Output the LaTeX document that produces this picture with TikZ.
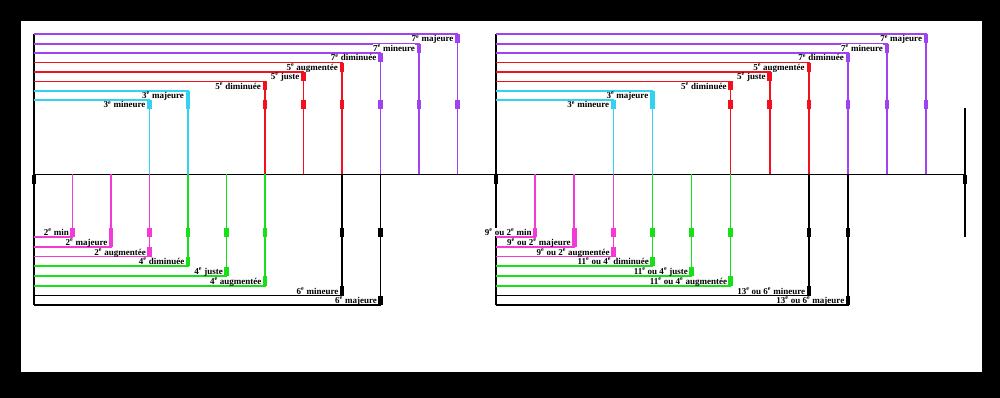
\documentclass[tikz,border=0pt]{standalone}
\usepackage{fontspec}
\setmainfont{Liberation Serif}
\usepackage{tikz}
\usetikzlibrary{positioning,calc}

\definecolor{tierce}{HTML}{33D2F2}
\definecolor{quinte}{HTML}{F2101E}
\definecolor{septieme}{HTML}{A042F0}
\definecolor{seconde}{HTML}{F23BD6}
\definecolor{quarte}{HTML}{18E018}
\definecolor{sixte}{HTML}{000000}

\begin{document}
\begin{tikzpicture}[x=1pt,y=-1pt,
    itv/.style={line width=1.6pt},
    lbl/.style={font=\fontsize{9}{10}\selectfont\bfseries, fill=white, inner sep=0.4pt, text depth=0pt}]
    % page
    \fill[black] (0,0) rectangle (1000,398);
    \fill[white] (21,21) rectangle (982,372);
    % axis and origins
    \coordinate (ax-L) at (34,174.5);
    \coordinate (ax-R) at (496,174.5);
    \coordinate (ax-end) at (965,174.5);
    \draw[itv] (ax-L) -- (ax-end);
    \draw[itv] (34,34.3) coordinate (o-L-top) -- (34,305.3) coordinate (o-L-bot);
    \draw[itv] (496,34.3) coordinate (o-R-top) -- (496,305.3) coordinate (o-R-bot);
    \draw[itv] (965,107.7) coordinate (oct-top) -- (965,236.7) coordinate (oct-bot);
    \foreach \a in {ax-L,ax-R,ax-end}
        \fill ($(\a)+(-2.25,0.5)$) rectangle ($(\a)+(2.25,9.8)$);
    \foreach \g/\ox/\u/\k in {L/34/38.5/0,R/496/39.1/1}{
        % intervals above the axis
        \foreach \s/\i/\c/\t in {3/0/tierce/{3\textsuperscript{e} mineure},
                                4/1/tierce/{3\textsuperscript{e} majeure},
                                6/2/quinte/{5\textsuperscript{e} diminuée},
                                7/3/quinte/{5\textsuperscript{e} juste},
                                8/4/quinte/{5\textsuperscript{e} augmentée},
                                9/5/septieme/{7\textsuperscript{e} diminuée},
                                10/6/septieme/{7\textsuperscript{e} mineure},
                                11/7/septieme/{7\textsuperscript{e} majeure}}{
            \pgfmathsetmacro\xx{\ox+\s*\u}
            \pgfmathsetmacro\yy{100.3-9.43*\i}
            \coordinate (ts-\g-\s) at (\ox,\yy);
            \coordinate (t-\g-\s) at (\xx,\yy);
            \coordinate (ta-\g-\s) at (\xx,174.5);
            \draw[itv,\c] (ts-\g-\s) -- (t-\g-\s) -- (ta-\g-\s);
            \fill[\c] ($(t-\g-\s)+(-2.3,0)$) rectangle ($(t-\g-\s)+(2.3,9)$);
            \fill[\c] (\xx-2.3,100) rectangle (\xx+2.3,109.3);
            \node[lbl,anchor=base east] (tl-\g-\s) at ($(t-\g-\s)+(-3.5,7.7)$) {\t};
        }
        % intervals below the axis
        \foreach \s/\i/\c/\tl/\tr in {1/0/seconde/{2\textsuperscript{e} min}/{9\textsuperscript{e} ou 2\textsuperscript{e} min},
                                    2/1/seconde/{2\textsuperscript{e} majeure}/{9\textsuperscript{e} ou 2\textsuperscript{e} majeure},
                                    3/2/seconde/{2\textsuperscript{e} augmentée}/{9\textsuperscript{e} ou 2\textsuperscript{e} augmentée},
                                    4/3/quarte/{4\textsuperscript{e} diminuée}/{11\textsuperscript{e} ou 4\textsuperscript{e} diminuée},
                                    5/4/quarte/{4\textsuperscript{e} juste}/{11\textsuperscript{e} ou 4\textsuperscript{e} juste},
                                    6/5/quarte/{4\textsuperscript{e} augmentée}/{11\textsuperscript{e} ou 4\textsuperscript{e} augmentée},
                                    8/6/sixte/{6\textsuperscript{e} mineure}/{13\textsuperscript{e} ou 6\textsuperscript{e} mineure},
                                    9/7/sixte/{6\textsuperscript{e} majeure}/{13\textsuperscript{e} ou 6\textsuperscript{e} majeure}}{
            \pgfmathsetmacro\xx{\ox+\s*\u}
            \pgfmathsetmacro\yy{237+9.75*\i}
            \coordinate (bs-\g-\s) at (\ox,\yy);
            \coordinate (b-\g-\s) at (\xx,\yy);
            \coordinate (ba-\g-\s) at (\xx,174.5);
            \draw[itv,\c] (bs-\g-\s) -- (b-\g-\s) -- (ba-\g-\s);
            \fill[\c] ($(b-\g-\s)+(-2.3,-9.3)$) rectangle ($(b-\g-\s)+(2.3,0)$);
            \fill[\c] (\xx-2.3,227.7) rectangle (\xx+2.3,237.3);
            \node[lbl,anchor=base east] (bl-\g-\s) at ($(b-\g-\s)+(-3,-1.5)$) {\ifnum\k=0 \tl\else\tr\fi};
        }
    }
\end{tikzpicture}
\end{document}
